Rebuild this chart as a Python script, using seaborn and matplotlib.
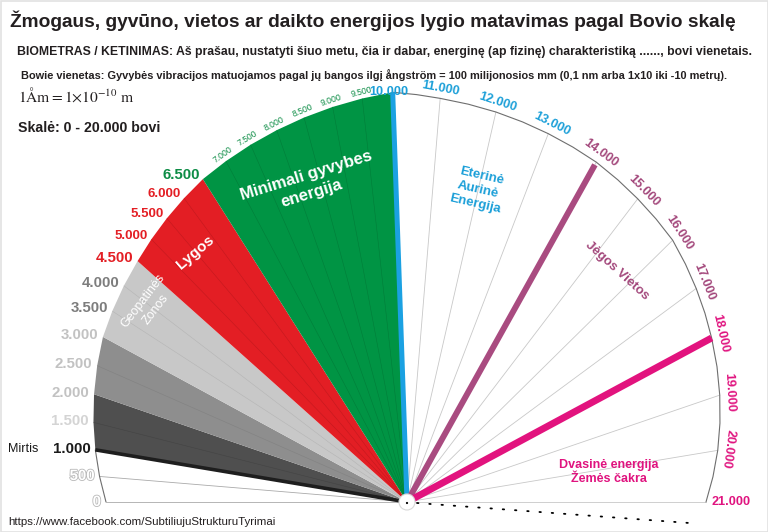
import numpy as np
import matplotlib
matplotlib.use("Agg")
import matplotlib.pyplot as plt
import matplotlib.patheffects as pe
from matplotlib.patches import Circle, Rectangle
import seaborn as sns

# --- data: Bovis scale ---
scale_ticks = [0, 500, 1000, 1500, 2000, 2500, 3000, 3500, 4000, 4500, 5000, 5500, 6000,
               6500, 7000, 7500, 8000, 8500, 9000, 9500, 10000, 11000, 12000, 13000, 14000,
               15000, 16000, 17000, 18000, 19000, 20000, 21000]
tick_labels = [f"{v:,}".replace(",", ".") for v in scale_ticks]

zone_from = [1000, 2000, 3000, 4500, 6500]
zone_to = [2000, 3000, 4500, 6500, 10000]
zone_colors = ["#4f4f4f", "#8e8e8e", "#c8c8c8", "#e31e24", "#009444"]
zone_sep = ["#3a3a3a", "#777777", "#a5a5a5", "#a8151a", "#006b30"]

mark_values = [1000, 10000, 14000, 18000]
mark_colors = ["#1e1e1e", "#1ba1e2", "#a94b80", "#e2137e"]

region_texts = ["Geopatinės\nZonos", "Lygos", "Minimali gyvybes\nenergija",
                "Eterinė\nAurinė\nEnergija", "Jėgos Vietos", "Dvasinė energija\nŽemės čakra"]
region_values = [4000, 5500, 8250, 12000, 15600, 20100]

title = "Žmogaus, gyvūno, vietos ar daikto energijos lygio matavimas pagal Bovio skalę"
line1 = ("BIOMETRAS / KETINIMAS: Aš prašau, nustatyti šiuo metu, čia ir dabar, energinę (ap fizinę) "
         "charakteristiką ......, bovi vienetais.")
line2 = ("Bowie vienetas: Gyvybės vibracijos matuojamos pagal jų bangos ilgį ångström = 100 "
         "milijonosios mm (0,1 nm arba 1x10 iki -10 metrų).")

# --- geometry of the fan (pixel space, y down) ---
CX, CY = 407, 502
ang_v = [0, 3000, 4500, 6500, 10000, 11000, 18000, 21000]
ang_d = [0, 28.5, 41.8, 57.7, 88, 94.7, 151.7, 180]
rad_v = [0, 3000, 6500, 10000, 12000, 14000, 16000, 18000, 20000, 21000]
rad_p = [301, 346, 382, 410, 400, 389, 373, 346, 315, 299]


def theta(v):
    return np.interp(v, ang_v, ang_d)


def point(v, extra=0.0, frac=1.0):
    t = np.radians(theta(v))
    r = np.interp(v, rad_v, rad_p) * frac + extra
    return CX - r * np.cos(t), CY - r * np.sin(t)


def edge_rot(v):
    x1, y1 = point(v - 500)
    x2, y2 = point(v + 500)
    return np.degrees(np.arctan2(-(y2 - y1), x2 - x1))


sns.set_theme(style="white")
plt.rcParams["font.family"] = ["Liberation Sans", "DejaVu Sans"]
plt.rcParams["mathtext.fontset"] = "stix"

fig = plt.figure(figsize=(7.68, 5.32), dpi=100)
ax = fig.add_axes([0, 0, 1, 1])
ax.set_xlim(0, 768)
ax.set_ylim(532, 0)
ax.axis("off")
ax.add_patch(Rectangle((0.5, 0.5), 767, 531, fill=False, ec="#e2e2e2", lw=1.2))

# thin radial lines in the white parts
for v in [0, 500] + list(range(11000, 21001, 1000)):
    x, y = point(v)
    ax.plot([CX, x], [CY, y], color="#c8c8c8" if v > 10000 else "#aaaaaa", lw=0.6, zorder=1)

# outer edge
edge_v = np.array([0, 500, 1000] + list(range(10000, 21001, 500)))
ex, ey = point(edge_v)
sns.lineplot(x=ex[:3], y=ey[:3], sort=False, color="#6e6e6e", lw=0.8, ax=ax)
sns.lineplot(x=ex[3:], y=ey[3:], sort=False, color="#6e6e6e", lw=0.8, ax=ax)

# coloured zones
for a, b, c, s in zip(zone_from, zone_to, zone_colors, zone_sep):
    vs = np.arange(a, b + 1, 500)
    xs, ys = point(vs)
    ax.fill(np.r_[CX, xs], np.r_[CY, ys], color=c, lw=0, zorder=2)
    for xv, yv in zip(xs[1:-1], ys[1:-1]):
        ax.plot([CX, xv], [CY, yv], color=s, lw=0.4, alpha=0.55, zorder=2)

# highlighted lines
mark_lw = [2.6, 3.6, 4.3, 5.0]
mark_shrink = [0, 0, -3, 0]
for v, c, w, sh in zip(mark_values, mark_colors, mark_lw, mark_shrink):
    x, y = point(v, sh)
    ax.plot([CX, x], [CY, y], color=c, lw=w, solid_capstyle="butt", zorder=3)

# centre marker and dotted trail
ax.add_patch(Circle((CX, CY), 8, fc="white", ec="#d8d8d8", lw=0.8, zorder=5))
ax.add_patch(Circle((CX, CY + 1), 1.1, fc="black", ec="none", zorder=6))
tr = np.radians(-4.2)
ax.plot([CX + 10, CX + 10 + 272 * np.cos(tr)], [CY + 1, CY + 1 - 272 * np.sin(tr)],
        color="black", lw=1.3, linestyle=(0, (0.8, 6.0)), dash_capstyle="round", zorder=4)

# tick labels
green = "#0c8c45"
blue = "#1b9fd8"
purple = "#a3477b"
magenta = "#e0137f"
outline = [pe.withStroke(linewidth=1.2, foreground="#b8b8b8")]
for v, lab in zip(scale_ticks, tick_labels):
    if v <= 6500:
        x, y = point(v, 5)
        if v < 1000:
            kw = dict(color="white", path_effects=outline)
        elif v == 1000:
            kw = dict(color="#1a1a1a")
        elif v <= 1500:
            kw = dict(color="#d4d4d4")
        elif v <= 3000:
            kw = dict(color="#c2c2c2")
        elif v <= 4000:
            kw = dict(color="#7d7d7d")
        elif v < 6500:
            kw = dict(color="#e31e24")
        else:
            kw = dict(color=green)
        size = 9.5 if 4500 < v < 6500 else 10.8
        ax.text(x, y, lab, ha="right", va="center", fontsize=size, fontweight="bold", **kw)
    elif v < 10000:
        x, y = point(v, 7)
        ax.text(x, y, lab, ha="center", va="center", fontsize=6.2, color=green,
                rotation=edge_rot(v), rotation_mode="anchor")
    elif v == 10000:
        x, y = point(v)
        ax.text(x - 4, y + 6, lab, ha="center", va="bottom", fontsize=9.2,
                fontweight="bold", color=blue)
    elif v < 21000:
        x, y = point(v, 10)
        col = blue if v < 14000 else (purple if v < 18000 else magenta)
        ax.text(x, y, lab, ha="center", va="center", fontsize=9.2, fontweight="bold",
                color=col, rotation=edge_rot(v), rotation_mode="anchor")
    else:
        x, y = point(v, 6)
        ax.text(x, y, lab, ha="left", va="center", fontsize=9.2, fontweight="bold", color=magenta)

x1000, y1000 = point(1000, 5)
ax.text(38, y1000, "Mirtis", ha="right", va="center", fontsize=9, color="#1a1a1a")

# region labels
region_frac = [0.91, 0.88, 0.84, 0.80, 0.83, 0.65]
region_style = [
    dict(color="white", fontsize=9, linespacing=1.35),
    dict(color="white", fontsize=11, fontweight="bold"),
    dict(color="white", fontsize=12, fontweight="bold", linespacing=1.3),
    dict(color=blue, fontsize=9.5, fontweight="bold", linespacing=1.3),
    dict(color=purple, fontsize=9.5, fontweight="bold"),
    dict(color=magenta, fontsize=9, fontweight="bold", linespacing=1.3),
]
for txt, v, f, st in zip(region_texts, region_values, region_frac, region_style):
    x, y = point(v, frac=f)
    rot = 0 if v > 19000 else 90 - theta(v)
    ax.text(x, y, txt, ha="center", va="center", rotation=rot, rotation_mode="anchor",
            multialignment="center", zorder=4, **st)

# header and footer
renderer = fig.canvas.get_renderer()


def fit_width(t, width):
    w = t.get_window_extent(renderer).width
    t.set_fontsize(t.get_fontsize() * width / w)


t0 = ax.text(10, 21, title, ha="left", va="center", fontsize=12.6, fontweight="bold",
             color="#231f20")
fit_width(t0, 725)
t1 = ax.text(17, 52, line1, ha="left", va="center", fontsize=8.5, fontweight="bold",
             color="#231f20")
fit_width(t1, 733)
t2 = ax.text(21, 75, line2, ha="left", va="center", fontsize=7.2, fontweight="bold",
             color="#231f20")
fit_width(t2, 703)
ax.text(18, 95, r"$\mathrm{1Åm} = 1{\times}10^{-10}\ \mathrm{m}$", ha="left", va="center",
        fontsize=11.2, color="#231f20")
t3 = ax.text(18, 128, "Skalė: 0 - 20.000 bovi", ha="left", va="center", fontsize=10,
             fontweight="bold", color="#231f20")
fit_width(t3, 142)
t4 = ax.text(8, 522, "https://www.facebook.com/SubtiliujuStrukturuTyrimai", ha="left",
             va="center", fontsize=8.4, color="#231f20")
fit_width(t4, 266)

fig.savefig("out.png", dpi=100)
